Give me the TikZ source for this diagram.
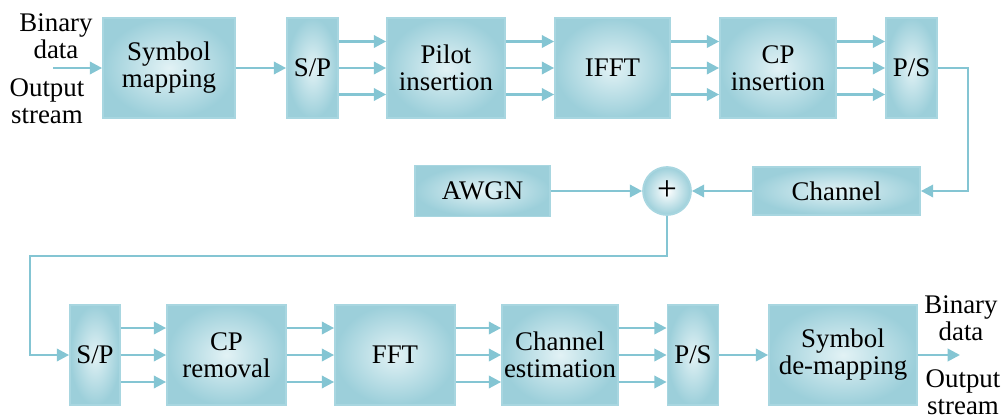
\documentclass[tikz,border=0pt]{standalone}
\usepackage{fontspec}
\setmainfont{Liberation Serif}
\usepackage{tikz}
\usetikzlibrary{arrows.meta}

\definecolor{boxedge}{HTML}{9CCFDA}
\definecolor{boxmid}{HTML}{E2F2F5}
\definecolor{boxline}{HTML}{A8D6E0}
\definecolor{linecol}{HTML}{84C5D3}

\tikzset{
 blk/.style={draw=boxline, line width=1pt, inner color=boxmid, outer color=boxedge,
   align=center, minimum height=2cm, inner sep=0pt},
 arr/.style={draw=linecol, line width=1.5pt, -{Triangle[length=7pt,width=7pt]}},
 lbl/.style={align=center, inner sep=0pt}
}

\begin{document}
\begin{tikzpicture}[x=0.02cm, y=-0.02cm, font=\rmfamily\fontsize{15.3}{15.3}\selectfont]
\useasboundingbox (0,0) rectangle (1006,419);

% transmitter
\node[blk, minimum width=2.64cm] (map) at (169,68) {Symbol\\mapping};
\node[blk, minimum width=1.02cm] (sp1) at (312.5,68) {S/P};
\node[blk, minimum width=2.36cm] (pil) at (446,68) {Pilot\\insertion};
\node[blk, minimum width=2.3cm] (ifft) at (612.5,68) {IFFT};
\node[blk, minimum width=2.32cm] (cpi) at (778,68) {CP\\insertion};
\node[blk, minimum width=1.02cm] (ps1) at (911.5,68) {P/S};

% channel
\node[blk, minimum width=2.7cm, minimum height=1.02cm] (awgn) at (482.5,191) {AWGN};
\node[circle, draw=boxline, line width=1pt, inner color=white, outer color=boxedge,
  minimum size=0.96cm, inner sep=0pt, font=\fontsize{20}{20}\selectfont] (sum) at (667,191) {+};
\node[blk, minimum width=3.34cm, minimum height=0.96cm] (chan) at (836.5,191) {Channel};

% receiver
\node[blk, minimum width=1cm] (sp2) at (95,355) {S/P};
\node[blk, minimum width=2.38cm] (cpr) at (226.5,355) {CP\\removal};
\node[blk, minimum width=2.4cm] (fft) at (395,355) {FFT};
\node[blk, minimum width=2.32cm] (est) at (560,355) {Channel\\estimation};
\node[blk, minimum width=1.02cm] (ps2) at (693,355) {P/S};
\node[blk, minimum width=2.96cm] (dem) at (843,355) {Symbol\\de-mapping};

\node[lbl] (bin1) at (56,36) {Binary\\data};
\node[lbl] (out1) at (47,101) {Output\\stream};
\node[lbl] (bin2) at (961,318) {Binary\\data};
\node[lbl] (out2) at (963,392) {Output\\stream};

\coordinate (src) at (53,68);
\coordinate (dst) at (960,355);
\coordinate (t1) at (968,191);
\coordinate (t2) at (30,256);

\draw[arr] (src) -- (map.west);
\draw[arr] (map) -- (sp1);
\foreach \a/\b in {sp1/pil, pil/ifft, ifft/cpi, cpi/ps1}
  \foreach \dy in {-0.53,0,0.53}
    \draw[arr] ([yshift=\dy cm]\a.east) -- ([yshift=\dy cm]\b.west);

\draw[arr] (ps1.east) -| (t1) -- (chan.east);
\draw[arr] (awgn) -- (sum);
\draw[arr] (chan) -- (sum);
\draw[arr] (sum.south) |- (t2) |- (sp2.west);

\foreach \a/\b in {sp2/cpr, cpr/fft, fft/est, est/ps2}
  \foreach \dy in {-0.54,0,0.54}
    \draw[arr] ([yshift=\dy cm]\a.east) -- ([yshift=\dy cm]\b.west);
\draw[arr] (ps2) -- (dem);
\draw[arr] (dem.east) -- (dst);

\end{tikzpicture}
\end{document}
